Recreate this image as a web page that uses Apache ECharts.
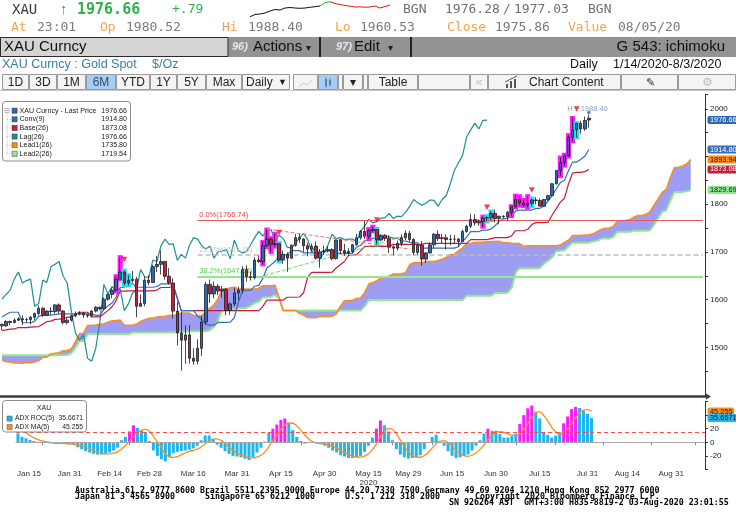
<!DOCTYPE html>
<html><head><meta charset="utf-8">
<script src="https://cdn.jsdelivr.net/npm/echarts/dist/echarts.min.js"></script>
<style>html,body{margin:0;padding:0;background:#fff}#c{width:736px;height:530px}</style>
</head><body><div id="c"></div>
<script>
// ---------------- DATA ----------------
const startDate = '2020-01-14';
const nCats = 173;
const openP = [1548,1545,1554,1552,1557,1560,1558,1558,1563,1571,1582,1567,1576,1575,1589,1576,1552,1557,1566,1570,1572,1568,1566,1576,1584,1581,1601,1611,1620,1643,1658,1635,1640,1643,1586,1592,1641,1636,1669,1674,1680,1649,1635,1576,1530,1515,1526,1477,1471,1498,1553,1632,1612,1628,1618,1622,1577,1591,1614,1620,1663,1648,1646,1683,1680,1713,1727,1716,1717,1683,1695,1687,1714,1730,1727,1713,1706,1712,1687,1700,1702,1705,1686,1725,1703,1698,1701,1715,1730,1743,1733,1745,1747,1725,1735,1728,1710,1708,1718,1730,1739,1726,1699,1714,1685,1698,1715,1737,1728,1730,1726,1727,1727,1722,1743,1754,1768,1761,1764,1771,1772,1781,1770,1775,1774,1783,1795,1810,1803,1798,1802,1809,1808,1796,1810,1818,1843,1871,1887,1902,1941,1956,1970,1958,1980.52];
const highP = [1550,1557,1556,1561,1563,1567,1562,1566,1573,1588,1584,1578,1584,1590,1592,1578,1562,1568,1575,1576,1574,1570,1578,1586,1585,1605,1612,1624,1649,1689,1661,1651,1660,1648,1611,1649,1651,1673,1692,1703,1680,1666,1645,1595,1575,1546,1547,1498,1517,1567,1637,1642,1638,1633,1629,1625,1594,1625,1627,1670,1672,1659,1689,1693,1721,1747,1729,1738,1719,1703,1699,1716,1738,1738,1729,1719,1718,1722,1706,1714,1712,1708,1726,1727,1717,1708,1717,1738,1746,1765,1748,1753,1748,1737,1737,1735,1714,1724,1737,1745,1744,1729,1717,1723,1700,1720,1740,1745,1738,1737,1736,1736,1729,1747,1757,1780.62,1779,1768,1774,1775,1785,1789,1776,1777,1786,1796,1818,1817,1809,1817,1812,1815,1812,1811,1820,1844,1871,1898,1904,1945,1981,1970,1975,1984,1988.40];
const lowP = [1536,1543,1546,1550,1555,1547,1552,1548,1557,1567,1564,1566,1569,1570,1571,1548,1548,1554,1563,1567,1562,1562,1563,1573,1578,1578,1598,1603,1617,1643,1630,1630,1636,1563,1585,1586,1630,1635,1658,1653,1642,1632,1560,1504,1451,1465,1466,1463,1464,1482,1547,1593,1603,1610,1604,1567,1568,1586,1599,1613,1638,1640,1642,1677,1674,1710,1700,1711,1680,1675,1658.46,1686,1711,1719,1700,1691,1701,1684,1667,1694,1699,1682,1684,1695,1692,1692,1698,1713,1726,1727,1727,1743,1716,1723,1723,1698,1693,1703,1712,1725,1722,1693,1694,1670.98,1677,1697,1707,1723,1719,1705,1714,1718,1711,1721,1740,1750,1755,1755,1753,1764,1767,1762,1757.76,1770,1765,1775,1793,1797,1796,1793,1796,1800,1796,1796,1807,1817,1841.20,1859,1881,1900,1932,1940,1948,1954,1960.53];
const closeP = [1545,1554,1552,1557,1560,1558,1558,1563,1571,1582,1567,1576,1575,1589,1576,1552,1557,1566,1570,1572,1568,1566,1576,1584,1581,1601,1611,1620,1643,1658,1635,1640,1643,1586,1592,1641,1636,1669,1674,1680,1649,1635,1576,1530,1515,1526,1477,1471,1498,1553,1632,1612,1628,1618,1622,1577,1591,1614,1620,1663,1648,1646,1683,1680,1713,1727,1716,1717,1683,1695,1687,1714,1730,1727,1713,1706,1712,1687,1700,1702,1705,1686,1725,1703,1698,1701,1715,1730,1743,1733,1745,1747,1725,1735,1728,1710,1708,1718,1730,1739,1726,1699,1714,1685,1698,1715,1737,1728,1730,1726,1727,1727,1722,1743,1754,1768,1761,1764,1771,1772,1781,1770,1775,1774,1783,1795,1810,1803,1798,1802,1809,1808,1796,1810,1818,1843,1871,1887,1902,1941,1956,1970,1958,1975.86,1976.66];
// highs/lows before the visible window (27 Sep 2019 - 13 Jan 2020), feed the cloud at the left edge
const preHigh = [1510,1497,1481,1500,1509,1514,1506,1507,1512,1508,1500,1496,1498,1496,1500,1496,1494,1490,1495,1505,1522,1505,1494,1498,1514,1516,1512,1510,1495,1494,1471,1464,1466,1468,1474,1473,1477,1476,1478,1474,1468,1464,1464,1464,1458,1466,1466,1481,1484,1480,1481,1464,1467,1476,1477,1479,1479,1479,1478,1480,1481,1488,1500,1500,1512,1514,1516,1523,1520,1530,1553,1582,1576,1611,1557,1563,1565];
const preLow = [1488,1466,1459,1476,1495,1500,1490,1487,1501,1490,1474,1482,1475,1478,1486,1485,1479,1480,1484,1490,1500,1486,1484,1483,1491,1504,1500,1481,1479,1465,1456,1449,1445,1454,1461,1464,1464,1466,1468,1462,1459,1451,1453,1452,1453,1454,1454,1461,1470,1472,1458,1456,1460,1462,1465,1466,1472,1473,1472,1474,1475,1476,1486,1497,1499,1506,1507,1509,1516,1516,1527,1552,1561,1549,1542,1546,1537];
// lower panel: ADX ROC(5)
const rocPre = [35,30,25,20];
const roc = [13,8,6,3.5,2,0.5,-1,-1,-1.5,-2,-2,-2,-2.5,-3,-4,-7,-10,-13,-15,-17,-18,-18,-17,-15,-12,-8,3,8,16,25,21,18,15,2,-12,-20,-25,-28,-22,-16,-14,-13,-12,-11,-9,-5,3,10,10,5,-3,-8,-13,-17,-20,-21,-22,-24,-26,-22,-15,-8,1,14,20,26,33,35,28,18,8,2,-2,-1,-1,-2,-3,-5,-8,-12,-15,-19,-21,-23,-23,-22,-20,-14,-5,7,20,32,25,16,3,-10,-18,-22,-24,-23,-22,-19,-10,0,8,11,-1,-5,-13,-20,-23,-22,-20,-18,-12,-5,3,13,20,17,17,12,7,7,9,13,27,40,50,54,45,35,14,11,7,10,15,28,38,49,52,50.5,46.5,41.61,35.6671];
const rocMagentaIdx = [28,29,64,65,66,67,90,91,118,126,127,128,129,137,138,139,140];
const rocThreshold = 15;
// candle highlights and signals
const magentaIdx = [28,29,64,65,66,67,90,91,118,125,126,127,128,129,137,138,139,140];
const cyanIdx = [30,31,68,92,119,120,130,141];
const sellSignals = [[30,1684],[68,1741],[92,1767],[119,1794],[130,1830],[141,2000]];
// retracement levels and trend lines
const fibStartDate = '2020-03-20';
const fibLevels = [['0.0%',1766.74],['23.6%',1693.15],['38.2%',1647.63]];
const trendLines = [[['2020-04-14',1748],['2020-06-02',1706]],[['2020-04-10',1647],['2020-06-02',1736]]];
// axis labels
const labelDates = ['2020-01-15','2020-01-31','2020-02-14','2020-02-28','2020-03-16','2020-03-31','2020-04-15','2020-04-30','2020-05-15','2020-05-29','2020-06-15','2020-06-30','2020-07-15','2020-07-31','2020-08-14','2020-08-31'];
const tickDates = ['2020-01-22','2020-02-07','2020-02-21','2020-03-09','2020-03-24','2020-04-08','2020-04-22','2020-05-08','2020-05-25','2020-06-08','2020-06-22','2020-07-07','2020-07-21','2020-08-06','2020-08-24','2020-09-08'];
const yearLabelDate = '2020-05-15';
// header sparkline (intraday)
const sparkVals = [3.3,5.5,6,7,9,10.5,10,12,12.5,12,11.7,12,12.7,13.3,14,17.3,18.3,16.5,15.5,14.5,13.8,13,13.2,12.8,13,14,12,13.5,15];

// ---------------- DERIVED ----------------
const cats = [];
(function(){ const p = startDate.split('-').map(Number); const d = new Date(Date.UTC(p[0],p[1]-1,p[2]));
  while(cats.length < nCats){ const w = d.getUTCDay(); if(w!==0 && w!==6) cats.push(d.toISOString().slice(0,10)); d.setUTCDate(d.getUTCDate()+1); } })();
const H = preHigh.concat(highP), L = preLow.concat(lowP), OFF = preHigh.length, SHIFT = 25;
function mid(s,len){ let hi=-Infinity, lo=Infinity; for(let k=s-len+1;k<=s;k++){ const j=k+OFF; if(H[j]>hi) hi=H[j]; if(L[j]<lo) lo=L[j]; } return (hi+lo)/2; }
const conv = closeP.map((_,i)=>mid(i,9));
const base = closeP.map((_,i)=>mid(i,26));
const lead1 = [], lead2 = [];
for(let t=0;t<closeP.length+SHIFT;t++){ const s=t-SHIFT; lead1.push((mid(s,9)+mid(s,26))/2); lead2.push(mid(s,52)); }
const lag = []; for(let t=0;t+SHIFT<closeP.length;t++) lag.push(closeP[t+SHIFT]);
const cloudLow = lead1.map((v,i)=>Math.min(v,lead2[i]));
const cloudDiff = lead1.map((v,i)=>Math.abs(v-lead2[i]));
const rocAll = rocPre.concat(roc);
const rocMA = roc.map((_,i)=>{ let s=0; for(let k=0;k<5;k++) s+=rocAll[i+4-k]; return s/5; });
const last = closeP.length-1;
const lastClose = closeP[last], lastConv = conv[last], lastBase = base[last];
const endLead1 = lead1[lead1.length-1], endLead2 = lead2[lead2.length-1];
const candles = closeP.map((c,i)=>[openP[i], c, lowP[i], highP[i]]);
const hl = magentaIdx.map(i=>[i,lowP[i],highP[i],1]).concat(cyanIdx.map(i=>[i,lowP[i],highP[i],0]));
const magSet = new Set(rocMagentaIdx);
const labelSet = new Set(labelDates.map(d=>cats.indexOf(d)));
const tickSet = new Set(tickDates.map(d=>cats.indexOf(d)));
const MON = ['Jan','Feb','Mar','Apr','May','Jun','Jul','Aug','Sep','Oct','Nov','Dec'];
function fmtDate(d){ const p=d.split('-'); return MON[+p[1]-1]+' '+(+p[2]); }
const maxHigh = Math.max.apply(null, highP);

// ---------------- STYLE ----------------
const SANS = '"Liberation Sans", Arial, sans-serif';
const MONO = '"DejaVu Sans Mono", monospace';
const C = {up:'#2f68b2', down:'#c61f3b', conv:'#3a6db8', base:'#c41e3a', lag:'#17909a', lead1:'#ff8c1a', lead2:'#8fe78f', cloud:'#9d9df3', mag:'#ff19ff', cyan:'#22e2f2', rocBlue:'#1cb6f0'};
const fibStyle = [{color:'#e85a5a',width:1,type:'solid'},{color:'#bdbdbd',width:1.5,type:[5,3]},{color:'#90e890',width:2,type:'solid'}];
const fibLabelColor = ['#e04848','#c4c4c4','#55cc55'];
const trendStyle = [{color:'#f07878',width:1},{color:'#66dd66',width:1}];

// ---------------- GRAPHIC HELPERS ----------------
function T(x,y,text,size,color,o){ o=o||{}; return {type:'text',x:x,y:y,z:100,silent:true,style:{text:text,fontSize:size,fontFamily:o.ff||SANS,fontWeight:o.fw||'normal',fontStyle:o.fs||'normal',fill:color,align:o.al||'left',verticalAlign:'middle'}}; }
function R(x,y,w,h,fill,stroke,lw,r){ return {type:'rect',z:99,silent:true,shape:{x:x,y:y,width:w,height:h,r:r||0},style:{fill:fill,stroke:stroke||null,lineWidth:lw||1}}; }
function LN(x1,y1,x2,y2,stroke,lw,dash){ return {type:'line',z:100,silent:true,shape:{x1:x1,y1:y1,x2:x2,y2:y2},style:{stroke:stroke,lineWidth:lw||1,lineDash:dash||null}}; }
const g = [];
// header row 1
const grey = '#707070', orange = '#f4a24c', green = '#2fb24c';
g.push(T(12,10,'XAU',14,'#3a3a3a',{ff:MONO}));
g.push(T(60,10,'↑',15,green));
g.push(T(77,10,'1976.66',15,green,{ff:MONO,fw:'bold'}));
g.push(T(172,10,'+.79',13,green,{ff:MONO}));
g.push(T(403,10,'BGN',13,grey,{ff:MONO}));
g.push(T(445,10,'1976.28',13,grey,{ff:MONO}));
g.push(T(503,10,'/',13,grey,{ff:MONO}));
g.push(T(514,10,'1977.03',13,grey,{ff:MONO}));
g.push(T(588,10,'BGN',13,grey,{ff:MONO}));
// header row 2
[[11,'At',1],[37,'23:01',0],[100,'Op',1],[126,'1980.52',0],[222,'Hi',1],[248,'1988.40',0],[335,'Lo',1],[360,'1960.53',0],[447,'Close',1],[495,'1975.86',0],[568,'Value',1],[618,'08/05/20',0]]
 .forEach(r=>g.push(T(r[0],28,r[1],13,r[2]?orange:'#7a7a7a',{ff:MONO})));
// row 3 band
g.push(R(0,37,736,20,'#939393'));
g.push(R(0.5,37.5,227.5,19,'#d4d4d4','#2a2a2a',1));
g.push(T(4,47,'XAU Curncy',15,'#111'));
g.push(T(232,47,'96)',11,'#e6e6e6',{fw:'bold',fs:'italic'}));
g.push(T(253,47,'Actions',15,'#111'));
g.push(T(306,48,'▾',10,'#222'));
g.push(LN(320,37,320,57,'#222',2));
g.push(T(336,47,'97)',11,'#e6e6e6',{fw:'bold',fs:'italic'}));
g.push(T(354,47,'Edit',15,'#111'));
g.push(T(388,48,'▾',10,'#222'));
g.push(LN(411,37,411,57,'#222',2));
g.push(T(725,47,'G 543: ichimoku',15,'#111',{al:'right'}));
// row 4
g.push(T(2,65,'XAU Curncy : Gold Spot',12.5,'#3a7fa8'));
g.push(T(152,65,'$/Oz',12.5,'#3a7fa8'));
g.push(T(570,65,'Daily',12.5,'#111'));
g.push(T(613,65,'1/14/2020-8/3/2020',12.5,'#111'));
// row 5 toolbar
const tb = [[2,29,'1D'],[29,57,'3D'],[57,86,'1M'],[86,116,'6M',1],[116,150,'YTD'],[150,177,'1Y'],[177,206,'5Y'],[206,242,'Max'],[242,290,''],[293,318,''],[318,338,'',1],[338,343,''],[343,363,'▾'],[363,368,''],[368,418,'Table'],[418,470,''],[470,488,''],[488,621,''],[621,678,''],[678,736,'']];
tb.forEach(b=>{ g.push(R(b[0]+0.5,74.5,b[1]-b[0]-1,15,b[3]?'#a6cdf2':'#f4f4f4','#9a9a9a',1)); if(b[2]) g.push(T((b[0]+b[1])/2,82.5,b[2],12,b[3]?'#2d4d78':'#222',{al:'center'})); });
g.push(T(246,82.5,'Daily',12,'#222'));
g.push(T(278,82.5,'▼',9,'#222'));
g.push({type:'polyline',z:100,silent:true,shape:{points:[[299,87],[303,83],[307,85],[312,80]]},style:{stroke:'#c8c8c8',lineWidth:1,fill:null}});
g.push(R(325,79,2,7,'#5a80b0')); g.push(R(329,80,2,5,'#5a80b0')); g.push(LN(326,77,326,88,'#5a80b0',0.8)); g.push(LN(330,78,330,87,'#5a80b0',0.8));
g.push(T(479,82.5,'«',12,'#c0c0c0',{al:'center'}));
g.push(R(506,84,2,4,'#555')); g.push(R(510,81,2,7,'#555')); g.push(R(514,79,2,9,'#555')); g.push(LN(505,82,517,76,'#555',1));
g.push(T(529,82.5,'Chart Content',12,'#222'));
g.push(T(650,82.5,'✎',11,'#333',{al:'center'}));
g.push(T(707,82.5,'⚙',12,'#bdbdbd',{al:'center'}));
g.push(LN(0,90.5,736,90.5,'#c8c8c8',1));
// main legend
g.push(R(2.5,101.5,128,59.5,'#ffffff','#8a8a8a',1,3));
const legRows = [['XAU Curncy - Last Price',lastClose,C.up],['Conv(9)',lastConv,C.conv],['Base(26)',lastBase,C.base],['Lag(26)',lastClose,C.lag],['Lead1(26)',lead1[last],C.lead1],['Lead2(26)',lead2[last],C.lead2]];
g.push(R(5,108.5,4,4,'#fff','#999',0.6));
g.push(LN(5.8,110.5,8.2,110.5,'#777',0.6));
g.push(LN(7,112.5,7,153.8,'#aaa',0.7,[1,1]));
legRows.forEach((r,k)=>{ const y=110.7+k*8.62; if(k>0) g.push(LN(7,y,11,y,'#aaa',0.7,[1,1])); g.push(R(12,y-2.6,5.2,5.2,r[2],'#3a3a3a',0.5)); g.push(T(19.5,y,r[0],7.1,'#222')); g.push(T(127,y,r[1].toFixed(2),7.1,'#222',{al:'right'})); });
// panel separator
g.push(LN(0,396.5,706,396.5,'#3c3c3c',2.5));
g.push({type:'polygon',z:100,silent:true,shape:{points:[[706,393.5],[711,396.5],[706,399.5]]},style:{fill:'#3c3c3c'}});
// lower legend
g.push(R(2.5,400.5,84,31.5,'#ffffff','#8a8a8a',1,3));
g.push(T(44,408,'XAU',7.1,'#222',{al:'center'}));
g.push(R(7,416,5.2,5.2,C.rocBlue,'#3a3a3a',0.4)); g.push(T(15,418.6,'ADX ROC(5)',6.8,'#222')); g.push(T(83,418.6,roc[last].toFixed(4),6.8,'#222',{al:'right'}));
g.push(R(7,424.5,5.2,5.2,C.lead1,'#3a3a3a',0.4)); g.push(T(15,427,'ADX MA(5)',6.8,'#222')); g.push(T(83,427,rocMA[last].toFixed(3),6.8,'#222',{al:'right'}));
// footer
const fs = 8.3;
g.push(T(75,490.5,'Australia 61 2 9777 8600 Brazil 5511 2395 9000 Europe 44 20 7330 7500 Germany 49 69 9204 1210 Hong Kong 852 2977 6000',fs,'#000',{ff:MONO,fw:'bold'}));
g.push(T(75,496.6,'Japan 81 3 4565 8900',fs,'#000',{ff:MONO,fw:'bold'}));
g.push(T(205,496.6,'Singapore 65 6212 1000',fs,'#000',{ff:MONO,fw:'bold'}));
g.push(T(345,496.6,'U.S. 1 212 318 2000',fs,'#000',{ff:MONO,fw:'bold'}));
g.push(T(475,496.6,'Copyright 2020 Bloomberg Finance L.P.',fs,'#000',{ff:MONO,fw:'bold'}));
g.push(T(449,503,'SN 926264 AST  GMT+3:00 H835-8819-2 03-Aug-2020 23:01:55',fs,'#000',{ff:MONO,fw:'bold'}));

// ---------------- MARK LINES ----------------
const fibStartIdx = cats.indexOf(fibStartDate);
const fibMarks = fibLevels.map((f,k)=>[
  {coord:[cats[fibStartIdx], f[1]], lineStyle:fibStyle[k], label:{show:true, position:'insideStartTop', distance:1.5, formatter:f[0]+'('+f[1].toFixed(2)+')', color:fibLabelColor[k], fontSize:7.5, fontFamily:SANS}},
  {coord:[cats[nCats-1], f[1]]}
]);
const trendMarks = trendLines.map((tl,k)=>[
  {coord:[tl[0][0], tl[0][1]], lineStyle:trendStyle[k], label:{show:false}},
  {coord:[tl[1][0], tl[1][1]]}
]);
function tag(v, bg, fg, dec){ return {yAxis:v, lineStyle:{color:'rgba(0,0,0,0)', width:1, opacity:1}, label:{show:true, position:'end', distance:2.5, formatter:v.toFixed(dec), backgroundColor:bg, color:fg, opacity:1, fontSize:7.4, fontFamily:SANS, padding:[1,1.5,0,2.5], borderRadius:2}}; }

// ---------------- OPTION ----------------
const option = {
  animation:false, backgroundColor:'#ffffff',
  graphic:{elements:g},
  grid:[
    {left:0, right:31, top:94.6, height:300.4},
    {left:0, right:31, top:401.5, height:68},
    {left:250, width:140, top:0, height:20}
  ],
  xAxis:[
    {type:'category', gridIndex:0, data:cats, boundaryGap:true, show:false},
    {type:'category', gridIndex:1, data:cats, boundaryGap:true,
     axisLine:{show:true, lineStyle:{color:'#9a9a9a'}},
     axisTick:{show:true, alignWithLabel:true, length:3, interval:(i)=>tickSet.has(i), lineStyle:{color:'#8a8a8a'}},
     axisLabel:{show:true, interval:(i)=>labelSet.has(i), margin:0, fontSize:8, fontFamily:SANS, color:'#333', lineHeight:9,
       formatter:(v,i)=>{ if(i===cats.indexOf(labelDates[0])) return '{s|'+fmtDate(v)+'}'; return fmtDate(v)+(v===yearLabelDate?'\n2020':''); },
       rich:{s:{fontSize:8, fontFamily:SANS, color:'#333', padding:[0,0,0,14]}}},
     splitLine:{show:false}},
    {type:'category', gridIndex:2, data:sparkVals.map((_,i)=>i), boundaryGap:false, show:false}
  ],
  yAxis:[
    {type:'value', gridIndex:0, position:'right', min:1400, max:2030, interval:50, scale:true,
     axisLine:{show:true, lineStyle:{color:'#333'}}, axisTick:{show:true, length:3, lineStyle:{color:'#333'}},
     axisLabel:{margin:5, fontSize:8, fontFamily:SANS, color:'#222', formatter:(v)=> (v%100===0 && v>=1500 && v<=2000 && v!==1900) ? String(v) : ''},
     splitLine:{show:false}},
    {type:'value', gridIndex:1, position:'right', min:-40, max:60, interval:20,
     axisLine:{show:true, lineStyle:{color:'#333'}}, axisTick:{show:true, length:3, lineStyle:{color:'#333'}},
     axisLabel:{margin:5, fontSize:8, fontFamily:SANS, color:'#222', formatter:(v)=> (v>=-20 && v<=20) ? String(v) : ''},
     splitLine:{show:false}},
    {type:'value', gridIndex:2, min:0, max:20, show:false}
  ],
  series:[
    {name:'cloudLow', type:'line', data:cloudLow, stack:'cloud', symbol:'none', lineStyle:{opacity:0}, silent:true, z:1},
    {name:'cloud', type:'line', data:cloudDiff, stack:'cloud', symbol:'none', lineStyle:{opacity:0}, areaStyle:{color:C.cloud, opacity:1}, silent:true, z:1},
    {name:'Lead2(26)', type:'line', data:lead2, symbol:'none', lineStyle:{color:C.lead2, width:2}, silent:true, z:2},
    {name:'Lead1(26)', type:'line', data:lead1, symbol:'none', lineStyle:{color:C.lead1, width:1.5}, silent:true, z:2,
     markLine:{silent:true, symbol:['none','none'], animation:false, data:fibMarks.concat(trendMarks)}},
    {name:'Lag(26)', type:'line', data:lag, symbol:'none', lineStyle:{color:C.lag, width:1.2}, silent:true, z:3},
    {name:'Base(26)', type:'line', data:base, symbol:'none', lineStyle:{color:C.base, width:1.2}, silent:true, z:3},
    {name:'Conv(9)', type:'line', data:conv, symbol:'none', lineStyle:{color:C.conv, width:1.2}, silent:true, z:3},
    {name:'highlight', type:'custom', data:hl, encode:{x:0, y:[1,2]}, silent:true, z:4,
     renderItem:function(params, api){ const top=api.coord([api.value(0), api.value(2)]); const bot=api.coord([api.value(0), api.value(1)]);
       return {type:'rect', shape:{x:top[0]-2.6, y:top[1]-2, width:5.2, height:bot[1]-top[1]+4}, style:{fill: api.value(3)===1 ? C.mag : C.cyan}}; }},
    {name:'XAU Curncy', type:'candlestick', data:candles, barWidth:3, z:5,
     itemStyle:{color:C.up, color0:C.down, borderColor:'#1e1e1e', borderColor0:'#1e1e1e', borderWidth:0.8}},
    {name:'signals', type:'scatter', data:sellSignals, symbol:'triangle', symbolRotate:180, symbolSize:[6,5.5], itemStyle:{color:'#e8141e'}, silent:true, z:6},
    {name:'hiH', type:'scatter', data:[sellSignals[sellSignals.length-1]], symbolSize:0.1, silent:true, z:6,
     label:{show:true, position:'left', distance:4, formatter:'H', fontSize:7.5, fontFamily:SANS, color:'#6f86b0'}},
    {name:'hiV', type:'scatter', data:[sellSignals[sellSignals.length-1]], symbolSize:0.1, silent:true, z:6,
     label:{show:true, position:'right', distance:4, formatter:maxHigh.toFixed(2), fontSize:7.5, fontFamily:SANS, color:'#6f86b0'}},
    {name:'lastDot', type:'scatter', data:[[last, maxHigh+4]], symbol:'circle', symbolSize:3.5, itemStyle:{color:C.up}, silent:true, z:6},
    // right-hand value tags (main panel)
    {name:'tags', type:'line', data:[], silent:true, z:7,
     markLine:{silent:true, symbol:['none','none'], animation:false, data:[
       tag(endLead2, C.lead2, '#1a1a1a', 2), tag(lastBase, C.base, '#fff', 2), tag(endLead1, C.lead1, '#1a1a1a', 2), tag(lastConv, C.conv, '#fff', 2), tag(lastClose, C.up, '#fff', 2)
     ]}},
    // lower panel
    {name:'ADX ROC(5)', type:'bar', xAxisIndex:1, yAxisIndex:1, barWidth:3, silent:true, z:3,
     data:roc.map((v,i)=>({value:v, itemStyle:{color: magSet.has(i) ? C.mag : C.rocBlue}})),
     markLine:{silent:true, symbol:['none','none'], animation:false, data:[
       {yAxis:0, lineStyle:{color:'#a8a8a8', type:'solid', width:1}, label:{show:false}},
       {yAxis:rocThreshold, lineStyle:{color:'#ff4a4a', type:[4,3], width:1}, label:{show:false}}
     ]}},
    {name:'ADX MA(5)', type:'line', xAxisIndex:1, yAxisIndex:1, data:rocMA, smooth:0.35, symbol:'none', lineStyle:{color:C.lead1, width:1.3}, silent:true, z:4},
    {name:'lowTags', type:'line', xAxisIndex:1, yAxisIndex:1, data:[], silent:true, z:7,
     markLine:{silent:true, symbol:['none','none'], animation:false, data:[ tag(rocMA[last], C.lead1, '#1a1a1a', 3), tag(roc[last], C.rocBlue, '#1a1a1a', 4) ]}},
    // header sparkline
    {type:'line', xAxisIndex:2, yAxisIndex:2, data:sparkVals.map((v,i)=>i<=14?v:null), symbol:'none', lineStyle:{color:'#111', width:1}, silent:true},
    {type:'line', xAxisIndex:2, yAxisIndex:2, data:sparkVals.map((v,i)=>(i>=14&&i<=16)?v:null), symbol:'none', lineStyle:{color:'#22bb33', width:1}, silent:true},
    {type:'line', xAxisIndex:2, yAxisIndex:2, data:sparkVals.map((v,i)=>i>=16?v:null), symbol:'none', lineStyle:{color:'#e01818', width:1}, silent:true}
  ]
};
const chart = echarts.init(document.getElementById('c'), null, {renderer:'canvas', width:736, height:530});
chart.setOption(option);
</script></body></html>
